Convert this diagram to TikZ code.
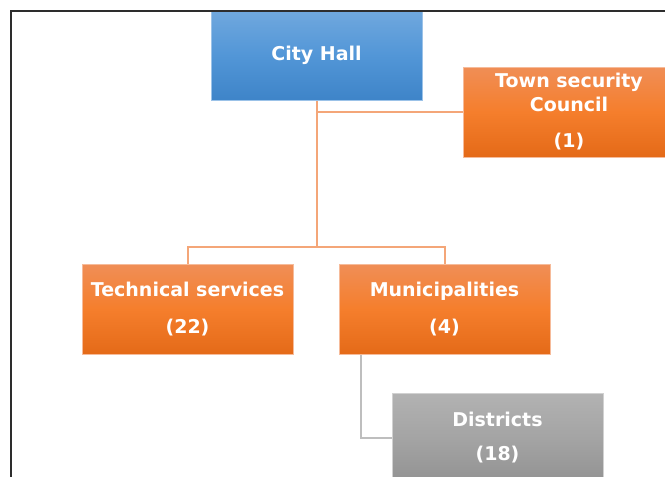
\documentclass[tikz,border=0pt]{standalone}
\usepackage{fontspec}
\setmainfont{DejaVu Sans}
\definecolor{blueT}{RGB}{112,168,222}
\definecolor{blueM}{RGB}{82,150,215}
\definecolor{blueB}{RGB}{62,132,200}
\definecolor{orT}{RGB}{240,142,86}
\definecolor{orM}{RGB}{245,126,44}
\definecolor{orB}{RGB}{228,106,24}
\definecolor{grT}{RGB}{178,178,178}
\definecolor{grM}{RGB}{164,164,164}
\definecolor{grB}{RGB}{146,146,146}
\definecolor{orline}{RGB}{244,166,120}
\definecolor{grline}{RGB}{190,190,190}
\definecolor{framecol}{RGB}{45,45,45}
\tikzset{
  boxbase/.style={minimum width=211pt, minimum height=90pt, inner sep=0pt, align=center,
    text=white, font=\bfseries\fontsize{19}{24}\selectfont},
  bluebox/.style={boxbase, top color=blueT, bottom color=blueB, middle color=blueM, draw=blueT!70!white, line width=0.5pt},
  orbox/.style={boxbase, top color=orT, bottom color=orB, middle color=orM, draw=orT!60!white, line width=0.5pt},
  grbox/.style={boxbase, top color=grT, bottom color=grB, middle color=grM, draw=grT!60!white, line width=0.5pt},
  orconn/.style={draw=orline, line width=2pt},
  grconn/.style={draw=grline, line width=2pt},
  framestyle/.style={draw=framecol, line width=2pt}
}
\begin{document}
\begin{tikzpicture}[x=1pt,y=-1pt]
\useasboundingbox (0,0) rectangle (665,477);
\clip (0,0) rectangle (665,477);
\fill[white] (0,0) rectangle (665,477);
\coordinate (bus) at (316.5,247);
\node[bluebox] (city) at (316.5,55.5) {City Hall};
\node[orbox] (town) at (569,112) {Town security\\Council\\[12pt](1)};
\node[orbox] (tech) at (187.5,309.5) {Technical services\\[13pt](22)};
\node[orbox] (muni) at (444.5,309.5) {Municipalities\\[13pt](4)};
\node[grbox] (dist) at (497.5,438) {Districts\\[10pt](18)};
\draw[orconn] (city.south) -- (bus);
\draw[orconn] (city.south |- town.west) -- (town.west);
\draw[orconn] (bus) -| (tech.north);
\draw[orconn] (bus) -| (muni.north);
\coordinate (mdrop) at ([xshift=-83.5pt]muni.south);
\draw[grconn] (mdrop) |- (dist.west);
\coordinate (fr1) at (10.5,480);
\coordinate (fr2) at (10.5,10.5);
\coordinate (fr3) at (670,10.5);
\draw[framestyle] (fr1) -- (fr2) -- (fr3);
\end{tikzpicture}
\end{document}
